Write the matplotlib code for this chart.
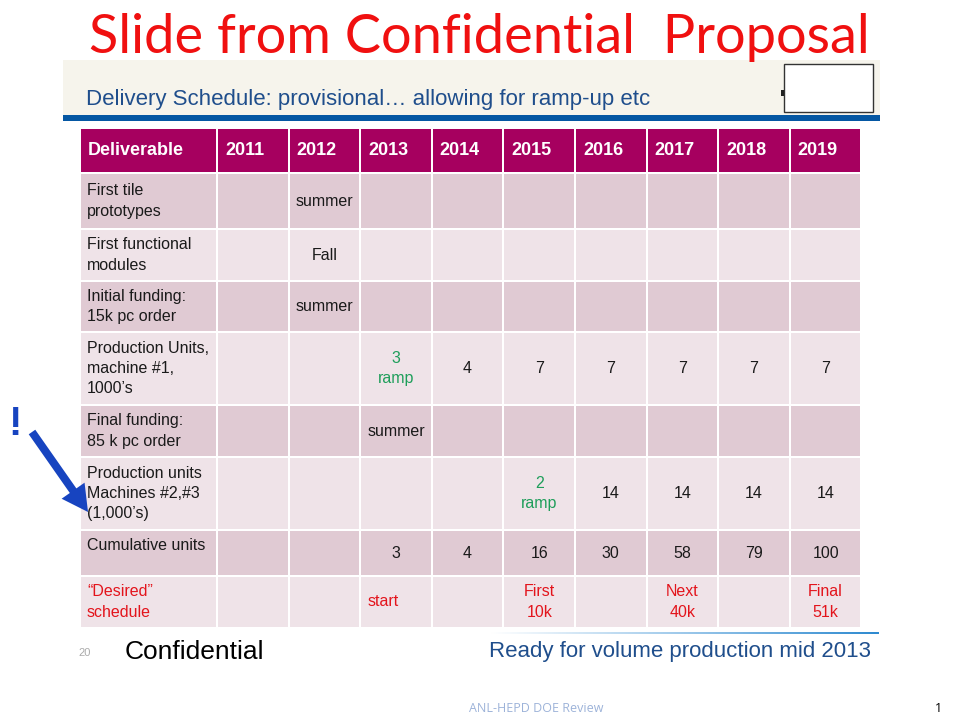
import numpy as np
import matplotlib.pyplot as plt
from matplotlib import font_manager
from matplotlib.colors import LinearSegmentedColormap
from matplotlib.patches import Rectangle, FancyArrow

names = {f.name for f in font_manager.fontManager.ttflist}
NARROW = 'Liberation Sans Narrow' if 'Liberation Sans Narrow' in names else 'Liberation Sans'
plt.rcParams['font.family'] = ['Liberation Sans', 'DejaVu Sans']

# ---- data ----
title = "Slide from Confidential  Proposal"
subtitle = "Delivery Schedule: provisional\u2026 allowing for ramp-up etc"
years = ["2011", "2012", "2013", "2014", "2015", "2016", "2017", "2018", "2019"]
deliverables = [
    "First tile\nprototypes",
    "First functional\nmodules",
    "Initial funding:\n15k pc order",
    "Production Units,\nmachine #1,\n1000\u2019s",
    "Final funding:\n85 k pc order",
    "Production units\nMachines #2,#3\n(1,000\u2019s)",
    "Cumulative units",
    "\u201cDesired\u201d\nschedule",
]
first_tile = ["", "summer", "", "", "", "", "", "", ""]
functional = ["", "Fall", "", "", "", "", "", "", ""]
initial_funding = ["", "summer", "", "", "", "", "", "", ""]
machine1 = ["", "", "3\nramp", "4", "7", "7", "7", "7", "7"]
final_funding = ["", "", "summer", "", "", "", "", "", ""]
machines23 = ["", "", "", "", "2\nramp", "14", "14", "14", "14"]
cumulative = ["", "", "3", "4", "16", "30", "58", "79", "100"]
desired = ["", "", "start", "", "First\n10k", "", "Next\n40k", "", "Final\n51k"]
cells = [first_tile, functional, initial_funding, machine1,
         final_funding, machines23, cumulative, desired]

# ---- layout (pixels) ----
col_edges = [80, 217] + [217 + 71.6 * (i + 1) for i in range(9)]
row_edges = [128, 173, 229, 281, 332, 405, 457, 530, 576, 628]
gap = 2

HEADER = '#A6005F'
DARK = '#E0CAD3'
LIGHT = '#EFE3E8'
RED = '#E3141C'
GREEN = '#1E9E5A'
BLUE_TXT = '#1F4E8C'

fig = plt.figure(figsize=(9.6, 7.2), dpi=100)
ax = fig.add_axes([0, 0, 1, 1])

# title
ax.text(479, 38, title, color='#F01010', fontsize=39, ha='center', va='center',
        family=['Lato', 'DejaVu Sans'])

# banner
ax.add_patch(Rectangle((63, 60), 817, 56, color='#F6F4EC', lw=0))
ax.add_patch(Rectangle((63, 115), 817, 6, color='#0557A3', lw=0))
ax.text(86, 100, subtitle, color=BLUE_TXT, fontsize=16, ha='left', va='center',
        family=[NARROW, 'DejaVu Sans'])
ax.add_patch(Rectangle((784, 64), 89, 48, facecolor='white', edgecolor='#333333', lw=1))
ax.add_patch(Rectangle((781, 90), 3, 6, color='#222222', lw=0))

# table
for r in range(len(row_edges) - 1):
    y0 = row_edges[r] + gap / 2
    h = row_edges[r + 1] - row_edges[r] - gap
    if r == 0:
        fc = HEADER
    else:
        fc = DARK if r % 2 == 1 else LIGHT
    for c in range(len(col_edges) - 1):
        x0 = col_edges[c] + gap / 2
        w = col_edges[c + 1] - col_edges[c] - gap
        ax.add_patch(Rectangle((x0, y0), w, h, facecolor=fc, lw=0))

# header text
ymid = (row_edges[0] + row_edges[1]) / 2
ax.text(col_edges[0] + 8, ymid, "Deliverable", color='white', fontsize=13,
        fontweight='bold', ha='left', va='center', family=[NARROW, 'DejaVu Sans'])
for c, yr in enumerate(years):
    ax.text(col_edges[c + 1] + 8, ymid, yr, color='white', fontsize=13,
            fontweight='bold', ha='left', va='center', family=[NARROW, 'DejaVu Sans'])

# body text
for r, label in enumerate(deliverables):
    top, bot = row_edges[r + 1], row_edges[r + 2]
    ym = (top + bot) / 2
    col = RED if r == 7 else '#1A1A1A'
    ly = top + 16 if label == "Cumulative units" else ym
    ax.text(col_edges[0] + 7, ly, label, color=col, fontsize=11.5,
            ha='left', va='center', family=[NARROW, 'DejaVu Sans'], linespacing=1.45)
    for c, val in enumerate(cells[r]):
        if not val:
            continue
        xc = (col_edges[c + 1] + col_edges[c + 2]) / 2
        tc = '#1A1A1A'
        if 'ramp' in val:
            tc = GREEN
        if r == 7:
            tc = RED
        ha = 'center'
        if val == 'start':
            xc = col_edges[c + 1] + 7
            ha = 'left'
        ax.text(xc, ym, val, color=tc, fontsize=11.5, ha=ha, va='center',
                family=[NARROW, 'DejaVu Sans'], linespacing=1.45, multialignment='center')

# exclamation + arrow
ax.text(15, 424, "!", color='#1744C0', fontsize=29, fontweight='bold',
        ha='center', va='center')
ax.add_patch(FancyArrow(32, 432, 56, 80, width=8, head_width=28, head_length=26,
                        length_includes_head=True, color='#1744C0', lw=0))

# footer
grad = np.linspace(0, 1, 200).reshape(1, -1)
cmap = LinearSegmentedColormap.from_list('g', ['#FFFFFF', '#9CC8EA', '#2E8AD0'])
ax.imshow(grad, extent=(490, 879, 634, 632), cmap=cmap, aspect='auto', zorder=1)
ax.text(78, 653, "20", color='#AAAAAA', fontsize=8, ha='left', va='center')
ax.text(125, 652, "Confidential", color='black', fontsize=19, ha='left', va='center')
ax.text(871, 652, "Ready for volume production mid 2013", color=BLUE_TXT, fontsize=16,
        ha='right', va='center', family=[NARROW, 'DejaVu Sans'])
ax.text(536, 708, "ANL-HEPD DOE Review", color='#9DB3D9', fontsize=9, ha='center',
        va='center', family=['Open Sans', 'DejaVu Sans'])
ax.text(938, 708, "1", color='black', fontsize=9, ha='center', va='center',
        family=['Open Sans', 'DejaVu Sans'])

ax.set_xlim(0, 960)
ax.set_ylim(720, 0)
ax.axis('off')

fig.savefig('out.png', dpi=100)
